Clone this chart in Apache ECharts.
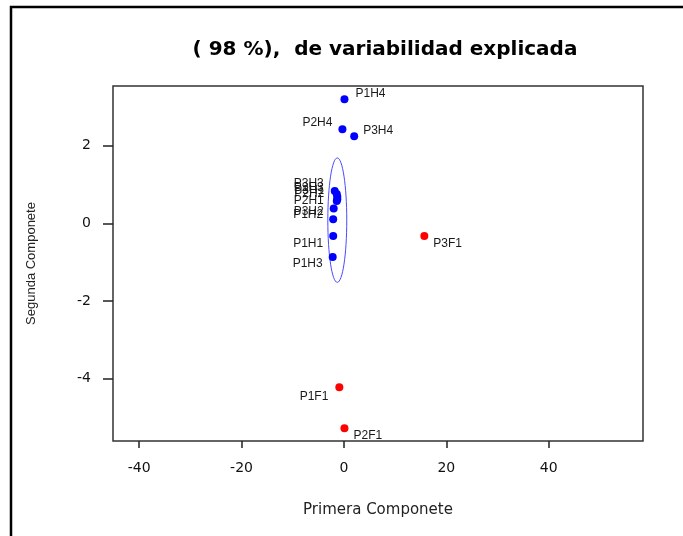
<!DOCTYPE html>
<html>
<head>
<meta charset="utf-8">
<script src="https://cdn.jsdelivr.net/npm/echarts@6/dist/echarts.min.js"></script>
<style>html,body{margin:0;padding:0;background:#fff}#c{width:683px;height:536px}</style>
</head>
<body>
<div id="c"></div>
<script>
// ---- data ----
const hNames = ['P1H4','P2H4','P3H4','P3H3','P2H3','P3H1','P2H2','P2H1','P3H2','P1H2','P1H1','P1H3'];
const hX     = [0.1, -0.3, 2.0, -1.8, -1.4, -1.3, -1.3, -1.4, -2.0, -2.1, -2.1, -2.2];
const hY     = [3.19, 2.42, 2.24, 0.83, 0.75, 0.68, 0.62, 0.57, 0.38, 0.10, -0.33, -0.87];
const fNames = ['P3F1','P1F1','P2F1'];
const fX     = [15.7, -0.9, 0.1];
const fY     = [-0.33, -4.22, -5.27];
const ellipseCenter = [-1.3, 0.08];
const ellipseRadii  = [1.85, 1.6];
const xTicks = [-40, -20, 0, 20, 40];
const yTicks = [-4, -2, 0, 2];
const titleText = '( 98 %),  de variabilidad explicada';
const xTitle = 'Primera Componete';
const yTitle = 'Segunda Componete';

// ---- label layout (style only): side, dx, dy in pixels ----
const labelLayoutMap = {
  P1H4: ['right', 2, -6], P2H4: ['left', -1, -6], P3H4: ['right', 0, -5],
  P3F1: ['right', 0, 8],  P1F1: ['left', -2, 9],  P2F1: ['right', 0, 8],
  P3H3: ['left', -2, -7], P2H3: ['left', -4, -6], P3H1: ['left', -4, -6],
  P2H2: ['left', -4, -5], P2H1: ['left', -4, 0],  P3H2: ['left', -1, 3],
  P1H2: ['left', -1, -5], P1H1: ['left', -1, 8],  P1H3: ['left', -1, 7]
};
function buildData(names, xs, ys) {
  return names.map((n, i) => ({ name: n, value: [xs[i], ys[i]],
      label: { position: labelLayoutMap[n][0] } }));
}
function makeLayout(names) {
  return function (params) {
    const l = labelLayoutMap[names[params.dataIndex]];
    return { dx: l[1], dy: l[2], hideOverlap: false };
  };
}
const font = 'Liberation Sans, Arial, sans-serif';
const wide = 'DejaVu Sans, sans-serif';
const chart = echarts.init(document.getElementById('c'), null, {renderer: 'canvas'});
chart.setOption({
  animation: false,
  backgroundColor: '#fff',
  title: { text: titleText, left: 380, top: 35, textAlign: 'center',
    textStyle: { fontFamily: wide, fontWeight: 'bold', fontSize: 20, color: '#000' } },
  grid: { left: 113, right: 40, top: 86, bottom: 95, show: true, borderColor: '#333', borderWidth: 1.5, backgroundColor: 'transparent' },
  xAxis: {
    type: 'value', min: -45.1, max: 58.4,
    name: xTitle, nameLocation: 'middle', nameGap: 62,
    nameTextStyle: { fontFamily: wide, fontSize: 15, color: '#222' },
    axisLine: { show: false, onZero: false }, splitLine: { show: false },
    axisTick: { show: true, length: 7, customValues: xTicks, lineStyle: { color: '#222', width: 1.5 } },
    axisLabel: { customValues: xTicks, fontFamily: wide, fontSize: 14, color: '#111', margin: 20 }
  },
  yAxis: {
    type: 'value', min: -5.60, max: 3.53,
    name: yTitle, nameLocation: 'middle', nameGap: 75, nameRotate: 90,
    nameTextStyle: { fontFamily: font, fontSize: 13, color: '#222', padding: [0, 0, 0, 0] },
    axisLine: { show: false, onZero: false }, splitLine: { show: false },
    axisTick: { show: true, length: 10, customValues: yTicks, lineStyle: { color: '#222', width: 1.5 } },
    axisLabel: { customValues: yTicks, fontFamily: wide, fontSize: 14, color: '#111', margin: 22 }
  },
  graphic: [{ type: 'rect', shape: { x: 11, y: 7, width: 700, height: 600 },
    style: { fill: 'none', stroke: '#000', lineWidth: 2.5 }, silent: true }],
  series: [
    { type: 'custom', silent: true, z: 1,
      data: [[ellipseCenter[0], ellipseCenter[1], ellipseRadii[0], ellipseRadii[1]]],
      renderItem: function (params, api) {
        const c = api.coord([api.value(0), api.value(1)]);
        const p = api.coord([api.value(0) + api.value(2), api.value(1) + api.value(3)]);
        return { type: 'ellipse', shape: { cx: c[0], cy: c[1], rx: p[0] - c[0], ry: c[1] - p[1] },
          style: { fill: 'none', stroke: '#4a4aff', lineWidth: 1 } };
      } },
    { type: 'scatter', z: 3, symbolSize: 8, itemStyle: { color: '#0000ff', opacity: 1 },
      label: { show: true, formatter: '{b}', fontFamily: font, fontSize: 12, color: '#1a1a1a', distance: 5 },
      labelLayout: makeLayout(hNames),
      data: buildData(hNames, hX, hY) },
    { type: 'scatter', z: 3, symbolSize: 8, itemStyle: { color: '#ff0000', opacity: 1 },
      label: { show: true, formatter: '{b}', fontFamily: font, fontSize: 12, color: '#1a1a1a', distance: 5 },
      labelLayout: makeLayout(fNames),
      data: buildData(fNames, fX, fY) }
  ]
});
</script>
</body>
</html>
